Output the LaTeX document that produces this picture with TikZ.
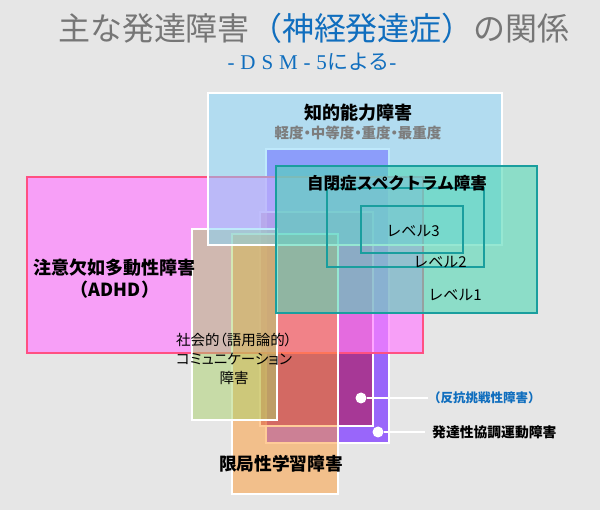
\documentclass[tikz,border=0pt]{standalone}
\usepackage{fontspec}
\setmainfont{Noto Sans CJK JP}
\newfontfamily\propjp[RawFeature=+palt]{Noto Sans CJK JP}
\newfontfamily\serifdsm[LetterSpace=28]{Liberation Serif}
\definecolor{bggray}{RGB}{230,230,230}
\definecolor{titlegray}{RGB}{118,118,118}
\definecolor{titleblue}{RGB}{16,110,190}
\definecolor{subgray}{RGB}{125,125,125}
\definecolor{idcol}{RGB}{128,212,250}
\definecolor{adhdcol}{RGB}{255,130,255}
\definecolor{adhdline}{RGB}{255,80,130}
\definecolor{asdcol}{RGB}{80,215,180}
\definecolor{asdline}{RGB}{26,158,158}
\definecolor{dcdcol}{RGB}{134,70,255}
\definecolor{oddcol}{RGB}{181,15,60}
\definecolor{sldcol}{RGB}{255,154,50}
\definecolor{scdcol}{RGB}{170,210,106}
\begin{document}
\begin{tikzpicture}[x=1pt,y=-1pt,
  area/.style={draw=white,line width=1.2pt},
  lvl/.style={draw=asdline,line width=1.5pt},
  dot/.style={circle,fill=white,inner sep=0pt,minimum size=11pt},
  link/.style={white,line width=1.5pt}]
\fill[bggray] (0,0) rectangle (600,510);

\draw[area,fill=dcdcol,fill opacity=0.8] (266,149) rectangle (389,443);
\draw[area,fill=oddcol,fill opacity=0.52] (260,212) rectangle (373,426);
\draw[fill=adhdcol,fill opacity=0.7,draw=adhdline,line width=2pt] (27,177) rectangle (423,353);
\draw[area,fill=sldcol,fill opacity=0.5] (232,234) rectangle (338,494);
\draw[area,fill=scdcol,fill opacity=0.5] (192,229) rectangle (277,420);
\draw[area,fill=idcol,fill opacity=0.5,line width=1.5pt] (208,93) rectangle (502,245);
\draw[lvl,fill=asdcol,fill opacity=0.6] (276,166) rectangle (537,313);
\draw[lvl] (327,188) rectangle (484,267);
\draw[lvl] (361,206) rectangle (463,253);

\node[text=titlegray,font=\fontsize{32}{36}\selectfont] (title) at (314,28) {主な発達障害\textcolor{titleblue}{（神経発達症）}の関係};
\node[text=titleblue,font=\fontsize{21}{24}\selectfont] (subtitle) at (312,62) {{\serifdsm -DSM-5}による{\serifdsm -}};
\node[font=\bfseries\fontsize{18}{22}\selectfont] (id) at (358,113) {知的能力障害};
\node[text=subgray,font=\propjp\bfseries\fontsize{14.5}{18}\selectfont] (idsub) at (358,133) {軽度・中等度・重度・最重度};
\node[font=\bfseries\fontsize{16.5}{20}\selectfont] (asd) at (397,183) {自閉症スペクトラム障害};
\node[font=\fontsize{15}{18}\selectfont] (lv3) at (413,231) {レベル3};
\node[font=\fontsize{15}{18}\selectfont] (lv2) at (440,262) {レベル2};
\node[font=\fontsize{15}{18}\selectfont] (lv1) at (455,295) {レベル1};
\node[font=\bfseries\fontsize{18}{22}\selectfont,align=center] (adhd) at (115,279) {注意欠如多動性障害\\（ADHD）};
\node[font=\propjp\fontsize{14.5}{19}\selectfont,align=center] (scd) at (234,359) {社会的（語用論的）\\コミュニケーション\\障害};
\node[font=\bfseries\fontsize{17.7}{20}\selectfont] (sld) at (281,464) {限局性学習障害};

\node[dot] (odddot) at (361,398) {};
\node[dot] (dcddot) at (378,432) {};
\node[anchor=west,inner xsep=0pt,text=titleblue,font=\bfseries\fontsize{12.5}{15}\selectfont] (odd) at (428,398) {（反抗挑戦性障害）};
\node[anchor=west,inner xsep=7pt,font=\bfseries\fontsize{13.8}{16}\selectfont] (dcd) at (425,432) {発達性協調運動障害};
\draw[link] (odddot) -- (odd);
\draw[link] (dcddot) -- (dcd);
\end{tikzpicture}
\end{document}
